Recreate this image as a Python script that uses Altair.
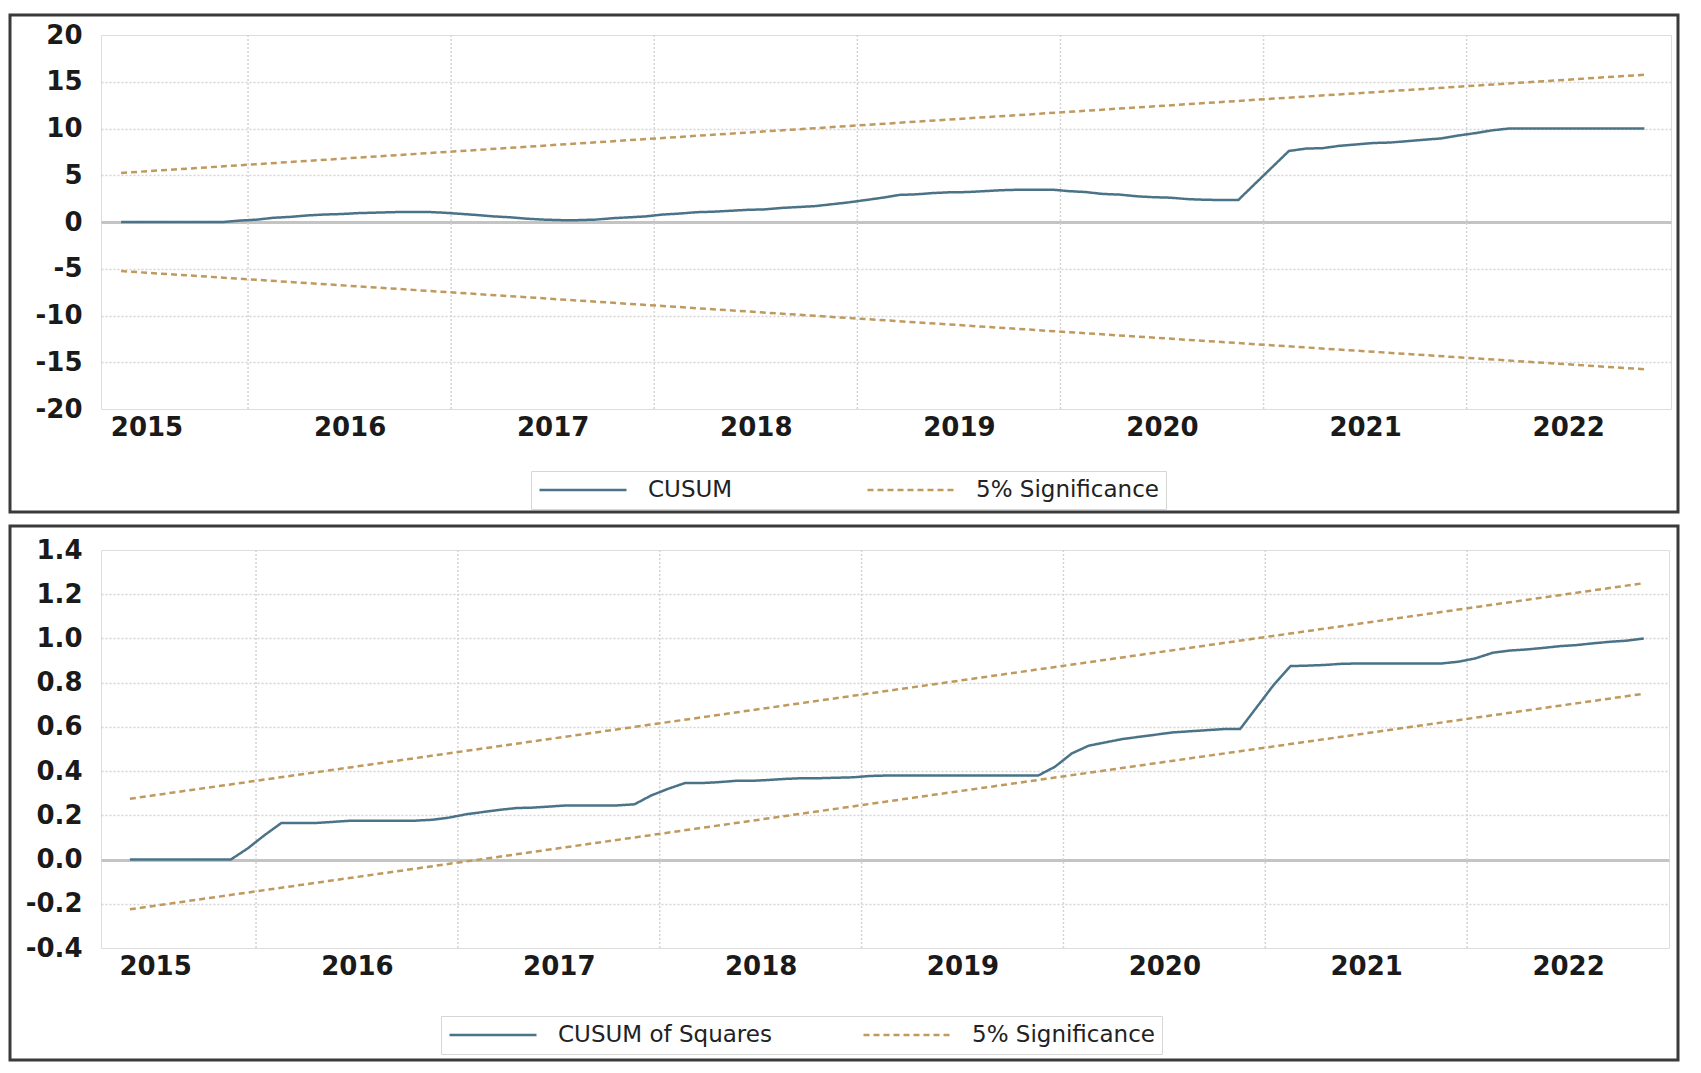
import altair as alt
import pandas as pd

# Monthly observations 2015M05 .. 2022M11
start_year, start_month, n_obs = 2015, 5, 91

cusum = [
    0, 0, 0, 0, 0, 0, 0, 0.15,                                          # 2015 M05-M12
    0.25, 0.45, 0.55, 0.7, 0.8, 0.85, 0.95, 1.0, 1.05, 1.08, 1.08, 1.0,  # 2016
    0.88, 0.75, 0.6, 0.5, 0.35, 0.25, 0.2, 0.2, 0.25, 0.4, 0.5, 0.6,     # 2017
    0.8, 0.9, 1.05, 1.1, 1.2, 1.3, 1.35, 1.5, 1.6, 1.7, 1.9, 2.1,        # 2018
    2.35, 2.6, 2.9, 2.96, 3.1, 3.18, 3.2, 3.3, 3.4, 3.45, 3.46, 3.46,    # 2019
    3.3, 3.2, 3.0, 2.93, 2.75, 2.65, 2.6, 2.45, 2.38, 2.35, 2.34, 4.1,   # 2020
    5.85, 7.6, 7.85, 7.9, 8.15, 8.3, 8.45, 8.5, 8.65, 8.8, 8.94, 9.25,   # 2021
    9.5, 9.8, 10.0, 10.0, 10.0, 10.0, 10.0, 10.0, 10.0, 10.0, 10.0,      # 2022 M01-M11
]

cusumsq = [
    0, 0, 0, 0, 0, 0, 0, 0.05,                                                          # 2015
    0.11, 0.165, 0.165, 0.165, 0.17, 0.175, 0.176, 0.176, 0.176, 0.176, 0.18, 0.19,     # 2016
    0.205, 0.215, 0.225, 0.233, 0.235, 0.24, 0.245, 0.245, 0.245, 0.245, 0.25, 0.29,    # 2017
    0.32, 0.346, 0.346, 0.35, 0.356, 0.356, 0.36, 0.365, 0.368, 0.368, 0.37, 0.372,     # 2018
    0.378, 0.38, 0.38, 0.38, 0.38, 0.38, 0.38, 0.38, 0.38, 0.38, 0.38, 0.42,            # 2019
    0.48, 0.515, 0.53, 0.545, 0.555, 0.565, 0.575, 0.58, 0.585, 0.59, 0.59, 0.69,       # 2020
    0.79, 0.875, 0.877, 0.88, 0.885, 0.887, 0.887, 0.887, 0.887, 0.887, 0.887, 0.895,   # 2021
    0.91, 0.935, 0.945, 0.95, 0.957, 0.965, 0.97, 0.978, 0.985, 0.99, 1.0,              # 2022
]

# 5% significance bounds (straight lines: value at first and last observation)
cusum_upper = [5.25, 15.75]
cusum_lower = [-5.25, -15.75]
sq_upper = [0.275, 1.25]
sq_lower = [-0.225, 0.75]

year_labels = [2015, 2016, 2017, 2018, 2019, 2020, 2021, 2022]
year_bounds = [2016, 2017, 2018, 2019, 2020, 2021, 2022]
top_ticks = [-20, -15, -10, -5, 0, 5, 10, 15, 20]
bottom_ticks = [-0.4, -0.2, 0.0, 0.2, 0.4, 0.6, 0.8, 1.0, 1.2, 1.4]

BLUE = "#4a7387"
TAN = "#bf9a5e"
FONT = "DejaVu Sans"

# decimal-year position of each monthly observation
xs = []
y, m = start_year, start_month
for _ in range(n_obs):
    xs.append(y + (m - 0.5) / 12.0)
    m += 1
    if m > 12:
        m = 1
        y += 1


def build_df(main_name, main_vals, upper, lower):
    rows = []
    for xv, v in zip(xs, main_vals):
        rows.append({"x": xv, "v": v, "series": main_name, "part": "main"})
    for part, vals in (("upper", upper), ("lower", lower)):
        rows.append({"x": xs[0], "v": vals[0], "series": "5% Significance", "part": part})
        rows.append({"x": xs[-1], "v": vals[1], "series": "5% Significance", "part": part})
    return pd.DataFrame(rows)


def panel(main_name, df, ticks, ymin, ymax, xdom, width, height, label_expr,
          frame, legend_xy, edge_test, xlab_pad, col_pad):
    xscale = alt.Scale(domain=xdom, nice=False, zero=False)
    yscale = alt.Scale(domain=[ymin, ymax], nice=False, zero=False)

    legend = alt.Legend(
        title=None, orient="none", legendX=legend_xy[0], legendY=legend_xy[1],
        direction="horizontal", symbolType="stroke", symbolSize=7569,
        symbolStrokeWidth=2.5, labelFont=FONT, labelFontSize=23,
        labelColor="#222222", labelOffset=20, columnPadding=col_pad,
        labelLimit=500, clipHeight=24, gridAlign="all",
        padding=7, strokeColor="#d6d6d6", fillColor="white",
    )

    lines = alt.Chart(df).mark_line(strokeWidth=2.5).encode(
        x=alt.X("x:Q", scale=xscale, title=None,
                axis=alt.Axis(values=[yv + 0.5 for yv in year_labels],
                              labelExpr="'' + floor(datum.value)",
                              grid=False, domain=False, ticks=False,
                              labelFont=FONT, labelFontSize=26, labelFontWeight="bold",
                              labelColor="#1a1a1a", labelPadding=xlab_pad)),
        y=alt.Y("v:Q", scale=yscale, title=None,
                axis=alt.Axis(values=ticks, labelExpr=label_expr,
                              domain=False, ticks=False,
                              labelFont=FONT, labelFontSize=26, labelFontWeight="bold",
                              labelColor="#1a1a1a", labelPadding=19,
                              gridColor={"condition": {"test": "abs(datum.value) < 1e-9", "value": "#c4c4c4"}, "value": "#d4d4d4"},
                              gridWidth={"condition": {"test": "abs(datum.value) < 1e-9", "value": 3}, "value": 1.5},
                              gridDash={"condition": {"test": "abs(datum.value) < 1e-9", "value": [1, 0]}, "value": [2, 2]},
                              gridOpacity={"condition": {"test": edge_test, "value": 0}, "value": 1})),
        color=alt.Color("series:N",
                        scale=alt.Scale(domain=[main_name, "5% Significance"], range=[BLUE, TAN]),
                        legend=legend),
        strokeDash=alt.StrokeDash("series:N",
                                  scale=alt.Scale(domain=[main_name, "5% Significance"],
                                                  range=[[1, 0], [6, 4]]),
                                  legend=legend),
        detail="part:N",
        order="x:Q",
    )

    vgrid = alt.Chart(pd.DataFrame({"yr": year_bounds})).mark_rule(
        color="#d4d4d4", strokeWidth=1.5, strokeDash=[2, 2]
    ).encode(x=alt.X("yr:Q", scale=xscale))

    box = alt.Chart(pd.DataFrame({"k": [0]})).mark_rect(
        filled=False, stroke="#3a3a3a", strokeWidth=3
    ).encode(
        x=alt.value(frame[0]), x2=alt.value(frame[1]),
        y=alt.value(frame[2]), y2=alt.value(frame[3]),
    )

    return alt.layer(vgrid, lines, box).properties(width=width, height=height)


top_df = build_df("CUSUM", cusum, cusum_upper, cusum_lower)
bot_df = build_df("CUSUM of Squares", cusumsq, sq_upper, sq_lower)

top = panel("CUSUM", top_df, top_ticks, -20, 20, [2015.276, 2023.006], 1570, 374,
            "'' + datum.value",
            (-91, 1577, -20, 477), (430, 436),
            "abs(datum.value) > 19.9", 5, 35)

bottom = panel("CUSUM of Squares", bot_df, bottom_ticks, -0.4, 1.4, [2015.232, 2023.0], 1568, 398,
               "datum.value < -1e-9 ? '-' + format(-datum.value, '.1f') : format(datum.value, '.1f')",
               (-91, 1577, -24, 510), (340, 466),
               "datum.value < -0.39 || datum.value > 1.39", 5, 90)

chart = alt.vconcat(top, bottom, spacing=10).resolve_scale(
    color="independent", strokeDash="independent", x="independent", y="independent"
).resolve_legend(color="independent", strokeDash="independent").properties(
    padding={"left": 0, "top": 5, "right": 0, "bottom": 0}
).configure_view(stroke=None).configure(background="white")

chart.save("out.html", embed_options={"renderer": "svg", "actions": False})
